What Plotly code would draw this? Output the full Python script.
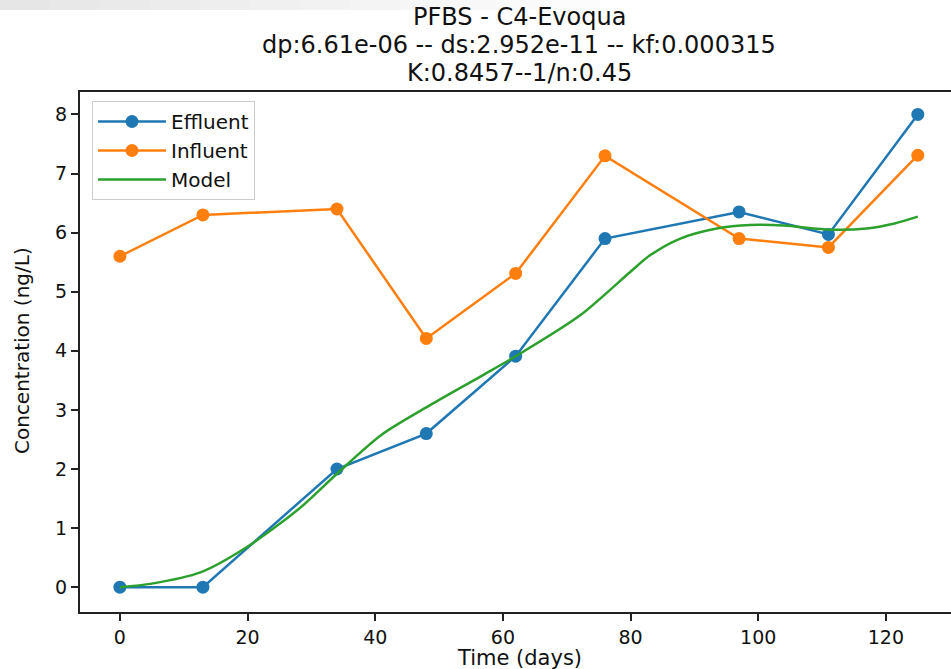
import plotly.graph_objects as go

# ---- data ----
days = [0, 13, 34, 48, 62, 76, 97, 111, 125]
effluent = [0.0, 0.0, 2.0, 2.6, 3.91, 5.9, 6.35, 5.97, 8.0]
influent = [5.6, 6.3, 6.4, 4.21, 5.31, 7.3, 5.9, 5.75, 7.31]

model_days = [0, 5, 12.6, 19.9, 28.2, 34, 41, 48.6, 56.4, 62.2, 72.1,
              79.9, 83.1, 87.8, 93.5, 98.7, 104, 111.3, 117, 121.2, 125]
model_vals = [0.0, 0.06, 0.25, 0.68, 1.34, 1.92, 2.58, 3.08, 3.56, 3.92, 4.60,
              5.33, 5.62, 5.90, 6.07, 6.13, 6.12, 6.05, 6.07, 6.15, 6.27]

title_lines = ["PFBS - C4-Evoqua",
               "dp:6.61e-06 -- ds:2.952e-11 -- kf:0.000315",
               "K:0.8457--1/n:0.45"]
x_title = "Time (days)"
y_title = "Concentration (ng/L)"
x_ticks = [0, 20, 40, 60, 80, 100, 120]
y_ticks = [0, 1, 2, 3, 4, 5, 6, 7, 8]

BLUE, ORANGE, GREEN = "#1f77b4", "#ff7f0e", "#2ca02c"
FONT = "DejaVu Sans"

W, H = 951, 669
L, R, T, B = 80, 0, 92, 57
PW, PH = W - L - R, H - T - B


def px(xp):
    return (xp - L) / PW


def py(yp):
    return (H - B - yp) / PH


fig = go.Figure()
fig.add_trace(go.Scatter(x=days, y=effluent, name="Effluent", mode="lines+markers",
                         line=dict(color=BLUE, width=2.5),
                         marker=dict(color=BLUE, size=13)))
fig.add_trace(go.Scatter(x=days, y=influent, name="Influent", mode="lines+markers",
                         line=dict(color=ORANGE, width=2.5),
                         marker=dict(color=ORANGE, size=13)))
fig.add_trace(go.Scatter(x=model_days, y=model_vals, name="Model", mode="lines",
                         line=dict(color=GREEN, width=2.5, shape="spline", smoothing=0.8)))

shapes = []
# faint grey gradient band at the top of the screenshot
steps = 12
for i in range(steps):
    x0 = i * 600 / steps
    x1 = (i + 1) * 600 / steps
    g = int(0xe6 + (0xff - 0xe6) * i / steps)
    shapes.append(dict(type="rect", xref="paper", yref="paper",
                       x0=px(x0), x1=px(x1), y0=py(10), y1=py(0),
                       line=dict(width=0), fillcolor=f"rgb({g},{g},{g})", layer="below"))

annotations = []
for txt, yc in zip(title_lines, [17, 45, 73]):
    annotations.append(dict(text=txt, xref="paper", yref="paper", x=px(519), y=py(yc),
                            xanchor="center", yanchor="middle", showarrow=False,
                            font=dict(family=FONT, size=24, color="#111")))
annotations.append(dict(text=x_title, xref="paper", yref="paper", x=px(519), y=py(658),
                        xanchor="center", yanchor="middle", showarrow=False,
                        font=dict(family=FONT, size=21, color="#111")))
annotations.append(dict(text=y_title, xref="paper", yref="paper", x=px(22), y=py(351),
                        xanchor="center", yanchor="middle", showarrow=False, textangle=-90,
                        font=dict(family=FONT, size=20, color="#111")))

fig.update_layout(
    width=W, height=H,
    margin=dict(l=L, r=R, t=T, b=B),
    paper_bgcolor="white", plot_bgcolor="white",
    font=dict(family=FONT, color="#111"),
    showlegend=True,
    legend=dict(x=px(92), y=py(101), xanchor="left", yanchor="top",
                bgcolor="rgba(255,255,255,0.85)", bordercolor="#cccccc", borderwidth=1,
                font=dict(family=FONT, size=20, color="#111"), itemwidth=68,
                tracegroupgap=0),
    shapes=shapes,
    annotations=annotations,
)
fig.update_xaxes(range=[-6.25, 130.2], tickvals=x_ticks, ticks="outside", ticklen=7,
                 tickwidth=1.5, tickcolor="#222", showline=True, linecolor="#222",
                 linewidth=2, mirror=True, showgrid=False, zeroline=False,
                 tickfont=dict(family=FONT, size=19, color="#111"))
fig.update_yaxes(range=[-0.42, 8.38], tickvals=y_ticks, ticks="outside", ticklen=7,
                 tickwidth=1.5, tickcolor="#222", showline=True, linecolor="#222",
                 linewidth=2, mirror=False, showgrid=False, zeroline=False,
                 tickfont=dict(family=FONT, size=19, color="#111"))

fig.write_html("out.html", config={"displayModeBar": False},
               post_script="document.body.style.margin='0px';")
